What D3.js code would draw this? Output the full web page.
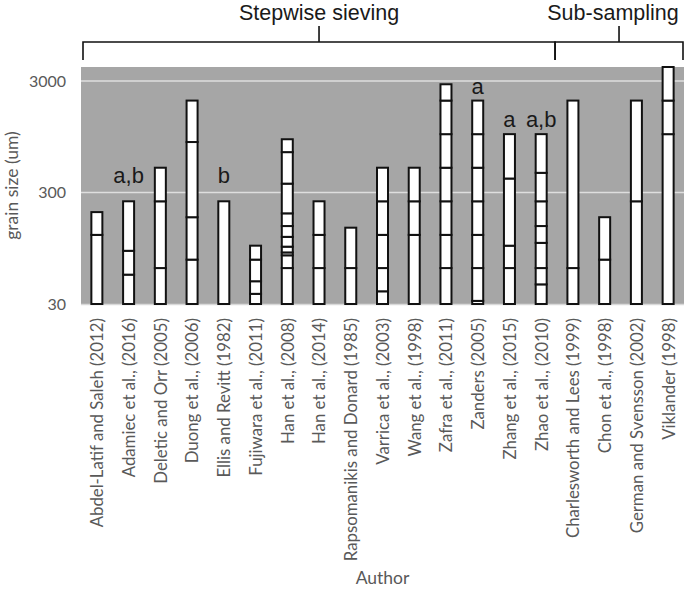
<!DOCTYPE html>
<html>
<head>
<meta charset="utf-8">
<script src="https://cdn.jsdelivr.net/npm/d3@7"></script>
<style>
  html, body { margin: 0; padding: 0; background: #fff; }
  svg { display: block; }
</style>
</head>
<body>
<svg id="chart" width="685" height="590"></svg>
<script>
// ---- data ----
const categories = [
  "Abdel-Latif and Saleh (2012)", "Adamiec et al., (2016)", "Deletic and Orr (2005)",
  "Duong et al., (2006)", "Ellis and Revitt (1982)", "Fujiwara et al., (2011)",
  "Han et al., (2008)", "Han et al., (2014)", "Rapsomanikis and Donard (1985)",
  "Varrica et al., (2003)", "Wang et al., (1998)", "Zafra et al., (2011)",
  "Zanders (2005)", "Zhang et al., (2015)", "Zhao et al., (2010)",
  "Charlesworth and Lees (1999)", "Chon et al., (1998)", "German and Svensson (2002)",
  "Viklander (1998)"
];
// sieve-size class boundaries (um); last value = largest size studied
const sieveBounds = [
  [125, 200],
  [55, 90, 250],
  [63, 250, 500],
  [75, 180, 850, 2000],
  [250],
  [37, 48, 75, 100],
  [63, 82, 87, 98, 120, 150, 195, 360, 690, 900],
  [63, 125, 250],
  [63, 145],
  [39, 63, 125, 250, 500],
  [125, 250, 500],
  [63, 125, 250, 500, 1000, 2000, 2800],
  [32, 63, 125, 250, 500, 1000, 2000],
  [63, 100, 400, 1000],
  [45, 63, 106, 150, 250, 450, 1000],
  [63, 2000],
  [75, 180],
  [250, 2000],
  [1000, 2000, 4000]
];
const notes = ["", "a,b", "", "", "b", "", "", "", "", "", "", "", "a", "a", "a,b", "", "", "", ""];
const groupNames = ["Stepwise sieving", "Sub-sampling"];
const groupFirst = [0, 15];
const yTicks = [30, 300, 3000];
const yMin = 30, yMax = 4000;
const yTitle = "grain size (um)";
const xTitle = "Author";

// ---- layout ----
const L = 81, R = 684, T = 67, B = 304;
const svg = d3.select("#chart");
const fontCal = "Lato, 'Open Sans', sans-serif";
const fontAr = "'Liberation Sans', Arial, sans-serif";
const textGrey = "#595959";

const x = d3.scalePoint().domain(categories).range([L, R]).padding(0.5);
const step = x.step();
const y = d3.scaleLog().domain([yMin, yMax]).range([B, T]);
const barW = 11;

// plot background
svg.append("rect").attr("x", L).attr("y", T).attr("width", R - L).attr("height", B - T)
  .attr("fill", "#a6a6a6");

// gridlines
svg.append("g").selectAll("line").data(yTicks.filter(d => d > yMin)).join("line")
  .attr("x1", L).attr("x2", R)
  .attr("y1", d => y(d)).attr("y2", d => y(d))
  .attr("stroke", "#dedede").attr("stroke-width", 1.5);

// bottom axis line
svg.append("line").attr("x1", L).attr("x2", R).attr("y1", B + 0.5).attr("y2", B + 0.5)
  .attr("stroke", "#d9d9d9").attr("stroke-width", 1.5);

// y axis
const yAxis = d3.axisLeft(y).tickValues(yTicks).tickFormat(d3.format("d")).tickSize(0).tickPadding(15);
const gy = svg.append("g").attr("transform", `translate(${L},0)`).call(yAxis);
gy.select(".domain").remove();
gy.selectAll("text").attr("font-family", fontCal).attr("font-size", 16).attr("fill", textGrey);

// bars (stacked segments)
const segs = [];
sieveBounds.forEach((bounds, i) => {
  let lo = yMin;
  bounds.forEach(hi => { segs.push({ c: categories[i], lo, hi }); lo = hi; });
});
svg.append("g").selectAll("rect").data(segs).join("rect")
  .attr("x", d => x(d.c) - barW / 2)
  .attr("width", barW)
  .attr("y", d => y(d.hi))
  .attr("height", d => y(d.lo) - y(d.hi))
  .attr("fill", "#fff").attr("stroke", "#111").attr("stroke-width", 2);

// x axis labels
const xAxis = d3.axisBottom(x).tickSize(0).tickPadding(0);
const gx = svg.append("g").attr("transform", `translate(0,${B})`).call(xAxis);
gx.select(".domain").remove();
gx.selectAll("text")
  .attr("font-family", fontCal).attr("font-size", 16.8).attr("fill", textGrey)
  .attr("text-anchor", "end")
  .attr("transform", "rotate(-90)")
  .attr("x", -14).attr("y", 0).attr("dy", "0.35em");

// annotations
const noteGap = { 1: 18, 4: 18, 12: 7, 13: 7, 14: 7 };
svg.append("g").selectAll("text").data(notes.map((n, i) => ({ n, i })).filter(d => d.n))
  .join("text")
  .attr("x", d => x(categories[d.i]))
  .attr("y", d => y(sieveBounds[d.i][sieveBounds[d.i].length - 1]) - (noteGap[d.i] || 7))
  .attr("text-anchor", "middle")
  .attr("font-family", fontAr).attr("font-size", 22).attr("fill", "#1a1a1a")
  .text(d => d.n);

// axis titles
svg.append("text").attr("transform", `translate(18,${(T + B) / 2}) rotate(-90)`)
  .attr("text-anchor", "middle")
  .attr("font-family", fontCal).attr("font-size", 17.5).attr("fill", textGrey)
  .text(yTitle);
svg.append("text").attr("x", (L + R) / 2).attr("y", 584)
  .attr("text-anchor", "middle")
  .attr("font-family", fontCal).attr("font-size", 17.5).attr("fill", textGrey)
  .text(xTitle);

// group brackets
const edges = [L + 2, x(categories[groupFirst[1]]) - step / 2 - 2, R - 1];
const bY = 42, bDown = 60, bUp = 26;
groupNames.forEach((g, k) => {
  const x0 = edges[k], x1 = edges[k + 1], xm = (x0 + x1) / 2;
  const grp = svg.append("g").attr("stroke", "#111").attr("stroke-width", 1.6).attr("fill", "none");
  grp.append("path").attr("d", `M${x0},${bDown}V${bY}H${x1}V${bDown}M${xm},${bY}V${bUp}`);
  svg.append("text").attr("x", xm - (k === 1 ? 6 : 0)).attr("y", 20)
    .attr("text-anchor", "middle")
    .attr("font-family", fontAr).attr("font-size", 21.5).attr("fill", "#1a1a1a")
    .text(g);
});
</script>
</body>
</html>
